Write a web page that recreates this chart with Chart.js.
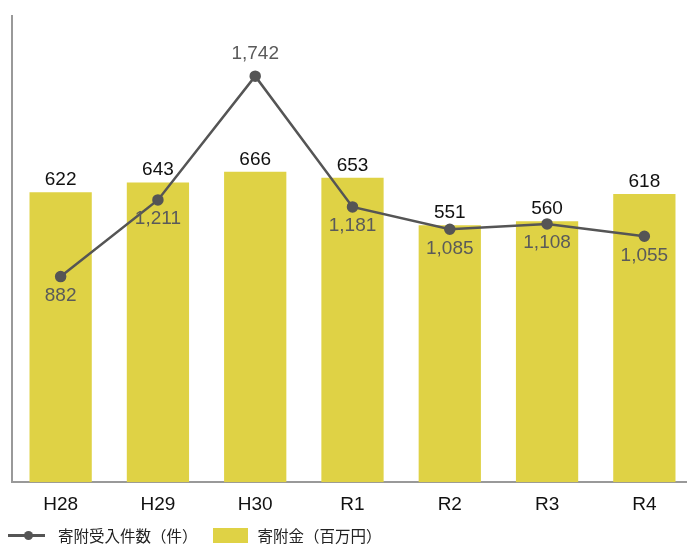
<!DOCTYPE html>
<html lang="ja">
<head>
<meta charset="utf-8">
<script src="https://cdn.jsdelivr.net/npm/chart.js@4"></script>
<style>
    html, body { margin: 0; padding: 0; background: #fff; overflow: hidden; }
    .wrap { position: relative; width: 700px; height: 545px; }
    .legend {
        position: absolute; left: 8px; top: 526px;
        font-family: "Noto Sans CJK JP", sans-serif; font-size: 15.5px; color: #222;
        display: flex; align-items: center; white-space: nowrap; line-height: 18px;
    }
    .legend .line { position: relative; width: 37px; height: 3px; background: #555; margin-right: 13px; }
    .legend .line::after {
        content: ''; position: absolute; left: 16px; top: -3px;
        width: 9px; height: 9px; border-radius: 50%; background: #555;
    }
    .legend .box { width: 35px; height: 15px; background: #dfd245; margin: 0 10px 0 15px; }
</style>
</head>
<body>
<div class="wrap">
    <canvas id="chart" width="700" height="545"></canvas>
    <div class="legend">
        <span class="line"></span><span>寄附受入件数（件）</span>
        <span class="box"></span><span>寄附金（百万円）</span>
    </div>
</div>
<script>
const categories = ['H28', 'H29', 'H30', 'R1', 'R2', 'R3', 'R4'];
const donationAmount = [622, 643, 666, 653, 551, 560, 618];       // 寄附金（百万円）
const donationCount = [882, 1211, 1742, 1181, 1085, 1108, 1055];  // 寄附受入件数（件）

const BAR_COLOR = '#dfd245';
const LINE_COLOR = '#555555';

// value labels: bar values above bars, line values below points (above when the point sits high above the bar)
const valueLabels = {
    id: 'valueLabels',
    afterDatasetsDraw(chart) {
        const ctx = chart.ctx;
        const barMeta = chart.getDatasetMeta(1);
        const lineMeta = chart.getDatasetMeta(0);
        ctx.save();
        ctx.textAlign = 'center';
        ctx.font = '19px "Liberation Sans", Arial, sans-serif';

        ctx.fillStyle = '#111';
        ctx.textBaseline = 'alphabetic';
        barMeta.data.forEach((bar, i) => {
            ctx.fillText(donationAmount[i].toLocaleString('en-US'), bar.x, bar.y - 7);
        });

        ctx.fillStyle = '#5a5a5a';
        ctx.textBaseline = 'middle';
        lineMeta.data.forEach((pt, i) => {
            const barTop = barMeta.data[i].y;
            const above = pt.y < barTop - 40;
            const y = above ? pt.y - 22 : pt.y + 19;
            ctx.fillText(donationCount[i].toLocaleString('en-US'), pt.x, y);
        });
        ctx.restore();
    }
};

new Chart(document.getElementById('chart'), {
    data: {
        labels: categories,
        datasets: [
            {
                type: 'line',
                label: '寄附受入件数（件）',
                data: donationCount,
                yAxisID: 'y2',
                borderColor: LINE_COLOR,
                backgroundColor: LINE_COLOR,
                borderWidth: 2.5,
                pointRadius: 4.5,
                pointHoverRadius: 4.5,
                tension: 0,
                order: 0
            },
            {
                type: 'bar',
                label: '寄附金（百万円）',
                data: donationAmount,
                yAxisID: 'y',
                backgroundColor: BAR_COLOR,
                barPercentage: 0.64,
                categoryPercentage: 1,
                order: 1
            }
        ]
    },
    options: {
        responsive: false,
        animation: false,
        events: [],
        layout: { padding: { left: 12, top: 16, right: 0, bottom: 18 } },
        plugins: {
            legend: { display: false },
            tooltip: { enabled: false }
        },
        scales: {
            x: {
                grid: { display: false, drawTicks: false },
                border: { color: '#999', width: 2 },
                ticks: {
                    color: '#111',
                    padding: 11,
                    font: { family: '"Liberation Sans", Arial, sans-serif', size: 19 }
                }
            },
            y: {
                position: 'left',
                min: 0,
                max: 1000,
                grid: { display: false, drawTicks: false },
                border: { color: '#999', width: 2 },
                ticks: { display: false }
            },
            y2: {
                display: false,
                min: 0,
                max: 2000
            }
        }
    },
    plugins: [valueLabels]
});
</script>
</body>
</html>
